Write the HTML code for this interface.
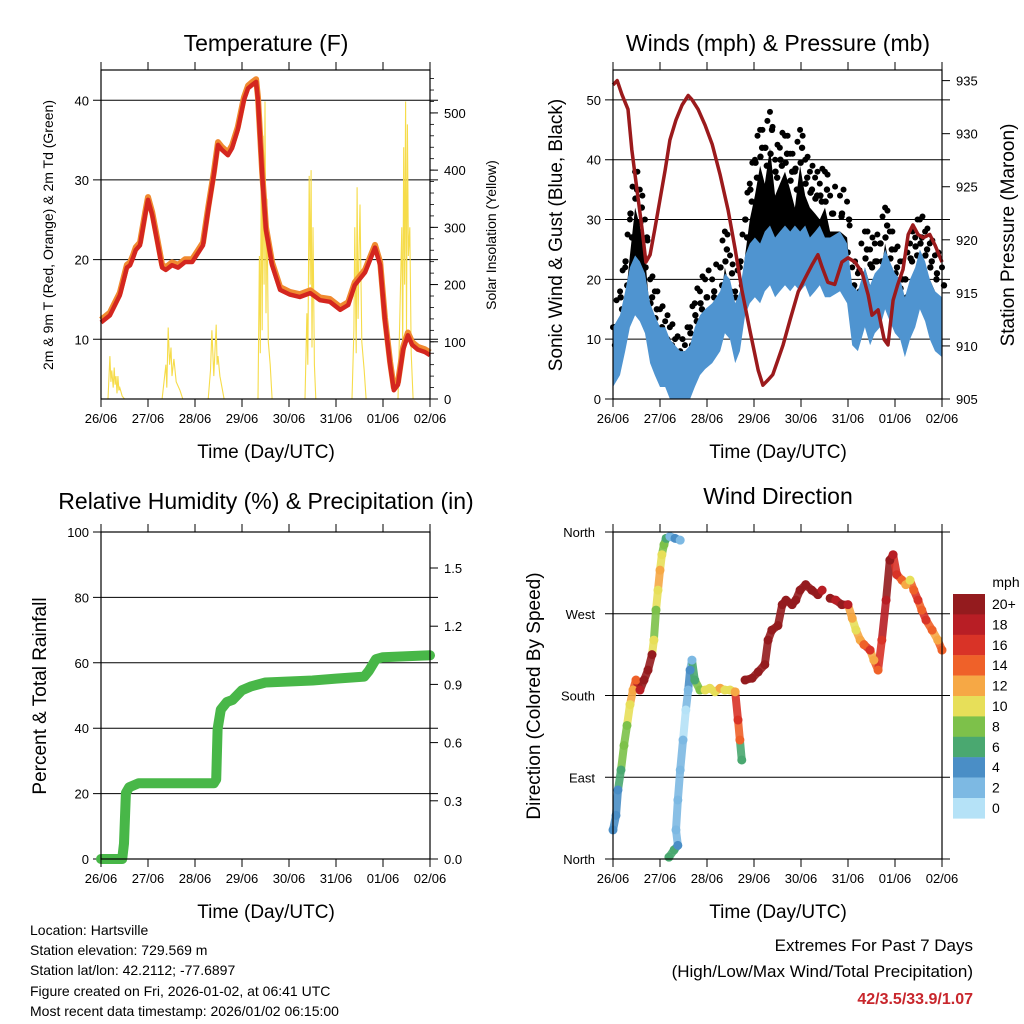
<!DOCTYPE html>
<html><head><meta charset="utf-8"><style>
html,body{margin:0;padding:0;background:#fff}
svg{display:block;font-family:"Liberation Sans",Arial,sans-serif}
</style></head><body>
<svg id="chart" width="1024" height="1024" viewBox="0 0 1024 1024" xmlns="http://www.w3.org/2000/svg">
<rect width="1024" height="1024" fill="#fff"/>
<g id="p1"></g>
<g id="p2"></g>
<g id="p3"></g>
<g id="p4"></g>
<g font-size="14" fill="#000">
<text x="30" y="935">Location: Hartsville</text>
<text x="30" y="955">Station elevation: 729.569 m</text>
<text x="30" y="975">Station lat/lon: 42.2112; -77.6897</text>
<text x="30" y="996">Figure created on Fri, 2026-01-02, at 06:41 UTC</text>
<text x="30" y="1016">Most recent data timestamp: 2026/01/02 06:15:00</text>
</g>
<g text-anchor="end">
<text x="973" y="951" font-size="17">Extremes For Past 7 Days</text>
<text x="973" y="977" font-size="17">(High/Low/Max Wind/Total Precipitation)</text>
<text x="973" y="1004" font-size="16" font-weight="bold" fill="#c8262c">42/3.5/33.9/1.07</text>
</g>
</svg>
<script>
const dayLabels=["26/06","27/06","28/06","29/06","30/06","31/06","01/06","02/06"];
// Temperature
const tTimes=[0,.19,.40,.55,.62,.68,.74,.83,.94,1.0,1.09,1.19,1.30,1.38,1.51,1.64,1.79,1.94,2.04,2.17,2.28,2.40,2.49,2.57,2.70,2.79,2.91,3.04,3.13,3.21,3.30,3.34,3.43,3.51,3.64,3.81,4.02,4.23,4.45,4.66,4.87,5.09,5.26,5.40,5.62,5.83,5.94,6.04,6.15,6.23,6.32,6.43,6.53,6.62,6.74,6.89,7.0];
const tVals=[12.1,13,15.5,19,19.3,20.2,21.2,21.8,25.6,27.5,25.6,22.5,19,18.7,19.3,19,19.7,19.7,20.6,21.8,26.2,30.6,34.4,33.8,33.1,34,36.3,40,41.5,41.9,42.3,40,30.6,23.7,19.3,16.2,15.6,15.3,15.8,14.9,14.7,13.7,14.3,16.8,18.4,21.5,19.3,12.4,6.8,3.6,4.3,8.7,10.5,9.3,8.7,8.4,8];
const solarTimes=[0,.15,.19,.21,.23,.26,.28,.30,.32,.34,.36,.38,.40,.45,.5,1.30,1.38,1.40,1.43,1.46,1.49,1.51,1.55,1.60,1.68,1.74,2.28,2.33,2.36,2.40,2.45,2.47,2.49,2.53,2.62,3.34,3.37,3.39,3.41,3.43,3.45,3.47,3.49,3.51,3.53,3.56,3.60,3.64,4.34,4.38,4.40,4.43,4.45,4.47,4.49,4.51,4.54,4.57,5.34,5.38,5.40,5.43,5.45,5.47,5.49,5.51,5.55,5.60,5.64,6.32,6.36,6.40,6.42,6.44,6.46,6.48,6.50,6.52,6.54,6.57,6.60,6.64,7.0];
const solarVals=[0,0,75,30,50,20,55,25,40,10,40,15,20,5,0,0,60,20,125,60,90,40,70,30,15,0,0,50,120,40,130,60,75,40,0,0,250,80,420,120,460,200,520,150,350,100,60,0,0,150,60,390,200,400,90,300,60,0,0,120,300,80,370,140,250,340,100,50,0,0,150,300,90,440,200,520,120,480,250,300,80,0,0];
const tTicks=[10,20,30,40];
const solarTicks=[0,100,200,300,400,500];
// Winds
const wTimes=[0,.15,.26,.36,.47,.57,.68,.79,.89,1.0,1.11,1.21,1.32,1.43,1.53,1.64,1.74,1.85,1.96,2.11,2.28,2.38,2.49,2.60,2.70,2.81,2.91,3.02,3.13,3.23,3.34,3.45,3.55,3.66,3.77,3.87,3.98,4.09,4.19,4.30,4.40,4.51,4.62,4.83,4.98,5.09,5.21,5.36,5.47,5.57,5.68,5.79,5.89,6.0,6.11,6.21,6.32,6.43,6.53,6.64,6.74,6.85,7.0];
const windVals=[7,9,13,17,19,18,16,11,9,7,7,5,4,3,3,4,7,9,10,11,13,16,15,11,13,19,21,22,21,23,24,22,23,24,23,24,23,24,22,23,24,22,22,23,21,14,13,17,14,16,17,20,18,16,15,12,15,17,20,18,15,13,12];
const gustVals=[12,18,22,30,38,35,30,20,18,15,13,12,10,8,9,12,16,18,20,20,22,28,24,18,22,30,36,40,45,42,48,40,42,44,41,38,45,40,38,37,36,38,34,34,33,22,21,28,25,26,26,32,28,25,23,20,26,27,30,28,26,24,22];
const pTimes=[0,.09,.19,.32,.40,.51,.62,.70,.79,.89,1.0,1.11,1.21,1.34,1.47,1.60,1.68,1.81,1.96,2.11,2.28,2.45,2.60,2.74,2.91,3.09,3.19,3.30,3.40,3.51,3.62,3.77,3.94,4.09,4.23,4.36,4.45,4.57,4.72,4.87,5.0,5.15,5.30,5.43,5.51,5.64,5.77,5.85,5.96,6.06,6.17,6.28,6.38,6.49,6.60,6.74,6.85,7.0];
const pVals=[934.6,935,933.7,932.3,928.5,924.7,921,917.9,918.6,921,923.8,926.6,929.4,931.3,932.7,933.6,933.2,932.3,930.8,929,926.1,922.8,919.1,915.3,911.5,907.7,906.3,906.8,907.3,908.7,910.1,912.5,915.1,916.4,917.6,918.6,917.4,916,915.8,917.9,918.3,917.9,916.9,914.8,912.9,913.4,910.6,910.1,914.3,915.8,917.2,920.5,921.4,920.5,920.2,920.5,919.5,917.9];
const wTicks=[0,10,20,30,40,50];
const pTicks=[905,910,915,920,925,930,935];
// Precip
const rTimes=[0,.45,.49,.53,.6,.8,2.4,2.45,2.48,2.55,2.68,2.8,3.0,3.2,3.5,4.5,5.0,5.6,5.7,5.85,6.0,7.0];
const rVals=[0,0,.08,.34,.37,.39,.39,.41,.67,.77,.81,.82,.87,.89,.91,.92,.93,.94,.97,1.03,1.04,1.05];
const rhTicks=[0,20,40,60,80,100];
const inTicks=["0.0","0.3","0.6","0.9","1.2","1.5"];
// Wind direction
const dTimes=[0,.064,.106,.17,.234,.298,.362,.426,.489,.574,.66,.745,.83,.87,.915,.957,1.0,1.04,1.085,1.13,1.21,1.32,1.43, 1.19,1.30,1.38, 1.34,1.38,1.43,1.49,1.55,1.6,1.64,1.68,1.74,1.85,1.96,2.06,2.17,2.28,2.38,2.49,2.6,2.66,2.70,2.74, 2.81,2.96,3.09,3.23,3.30,3.38,3.51,3.6,3.68,3.81,3.89,3.98,4.1,4.23,4.36,4.45,4.62,4.74,4.87,5.0,5.09,5.17,5.26,5.34,5.47,5.55,5.64,5.72,5.81,5.89,5.96,6.04,6.15,6.23,6.32,6.4,6.49,6.57,6.66,6.79,6.91,7.0];
const dDirs=[32,48,76,98,125,147,170,186,197,186,197,208,225,241,274,296,318,335,346,353,355,353,351, 2,10,15, 32,65,98,131,164,186,208,219,197,186,186,188,184,188,186,186,184,153,131,109, 197,199,206,214,241,252,257,280,285,280,285,296,302,296,291,296,287,285,280,280,265,252,241,236,230,219,208,241,285,329,335,313,307,302,307,296,285,274,263,252,241,230];
const dSpeeds=[4,4,5,7,8,9,11,12,14,18,20,20,20,10,8,10,12,10,8,7,3,4,3, 6,7,5, 3,3,2,2,1,3,4,3,6,8,10,11,10,12,11,10,12,16,14,7, 20,20,20,20,20,20,20,20,20,20,20,20,20,20,20,18,20,18,20,18,12,10,12,14,16,12,14,16,18,20,18,16,14,12,10,14,16,14,16,14,12,14];
const cbLabels=["20+","18","16","14","12","10","8","6","4","2","0"];
const cbColors=["#941b1e","#b81e25","#d93327","#ef6129","#f6a845","#e7df59","#7dc14a","#4aa870","#4a8ec6","#7db9e3","#b5e2f7"];

const NS="http://www.w3.org/2000/svg";
function mk(parent,tag,attrs){const e=document.createElementNS(NS,tag);for(const k in attrs)e.setAttribute(k,attrs[k]);parent.appendChild(e);return e;}
function txt(parent,x,y,s,size,anchor,rot){const e=mk(parent,'text',{x:x,y:y,'font-size':size,'text-anchor':anchor||'middle'});if(rot)e.setAttribute('transform','rotate(-90 '+x+' '+y+')');e.textContent=s;return e;}
function lin(d0,d1,r0,r1){return v=>r0+(v-d0)/(d1-d0)*(r1-r0);}
function pts(xs,ys,fx,fy){return xs.map((t,i)=>fx(t).toFixed(1)+','+fy(ys[i]).toFixed(1)).join(' ');}

function frame(g,L,T,R,B,fx){
  dayLabels.forEach((d,i)=>{const x=fx(i);
    const a=mk(g,'line',{x1:x,y1:B,x2:x,y2:B+8,stroke:'#000','stroke-width':1});
    
    mk(g,'line',{x1:x,y1:T,x2:x,y2:T-8,stroke:'#000','stroke-width':1});
    const t=txt(g,x,B+24,d,13);});
  const r=mk(g,'rect',{x:L,y:T,width:R-L,height:B-T,fill:'none',stroke:'#000','stroke-width':1.2});
  
}
function grid(g,L,R,y){const l=mk(g,'line',{x1:L-8,y1:y,x2:R+8,y2:y,stroke:'#000','stroke-width':1});}
function minor(g,x,y0,y1,step,dir){for(let y=y0;y>=y1;y-=step)mk(g,'line',{x1:x,y1:y,x2:x+dir*4,y2:y,stroke:'#000','stroke-width':0.8});}

// Panel 1
(function(){
  const g=document.getElementById('p1');const L=101,R=430,T=70,B=399;
  const fx=lin(0,7,L,R), fy=lin(2.5,43.8,B,T), fs=lin(0,575,B,T);
  const cl=mk(g,'clipPath',{id:'c1'});mk(cl,'rect',{x:L,y:T,width:R-L,height:B-T});
  tTicks.forEach(v=>{grid(g,L,R,fy(v));const t=txt(g,L-12,fy(v)+5,String(v),13,'end');});
  solarTicks.forEach(v=>{mk(g,'line',{x1:R,y1:fs(v),x2:R+8,y2:fs(v),stroke:'#000'});const t=txt(g,R+14,fs(v)+5,String(v),13,'start');});
  minor(g,R,fs(0),fs(560),(fs(0)-fs(20)),1);
  const s=mk(g,'polyline',{points:pts(solarTimes,solarVals,fx,fs),fill:'none',stroke:'#f6dc4a','stroke-width':1.1,'clip-path':'url(#c1)'});
  
  const o=mk(g,'polyline',{points:pts(tTimes,tVals.map(v=>v+0.35),fx,fy),fill:'none',stroke:'#f08a30','stroke-width':6,'stroke-linejoin':'round'});
  
  const r=mk(g,'polyline',{points:pts(tTimes,tVals,fx,fy),fill:'none',stroke:'#d4261f','stroke-width':4.5,'stroke-linejoin':'round'});
  
  frame(g,L,T,R,B,fx);
  let t=txt(g,266,51,'Temperature (F)',23);
  t=txt(g,266,458,'Time (Day/UTC)',19);
  t=txt(g,53,235,'2m & 9m T (Red, Orange) & 2m Td (Green)',14,'middle',true);
  t=txt(g,496,235,'Solar Insolation (Yellow)',14,'middle',true);
})();

// Panel 2
(function(){
  const g=document.getElementById('p2');const L=613,R=942,T=70,B=399;
  const fx=lin(0,7,L,R), fy=lin(0,55,B,T), fp=lin(905,936,B,T);
  const cy=v=>Math.max(T,Math.min(B,fy(v)));
  wTicks.forEach(v=>{if(v>0)grid(g,L,R,fy(v));else mk(g,'line',{x1:L-8,y1:B,x2:L,y2:B,stroke:'#000'});const t=txt(g,L-12,fy(v)+5,String(v),13,'end');});
  pTicks.forEach(v=>{mk(g,'line',{x1:R,y1:fp(v),x2:R+8,y2:fp(v),stroke:'#000'});const t=txt(g,R+14,fp(v)+5,String(v),13,'start');});
  const up=wTimes.map((t,i)=>fx(t).toFixed(1)+','+cy(gustVals[i]-6).toFixed(1));
  const lo=wTimes.map((t,i)=>fx(t).toFixed(1)+','+cy(windVals[i]+3).toFixed(1)).reverse();
  const gb=mk(g,'polygon',{points:up.concat(lo).join(' '),fill:'#000'});
  
  wTimes.forEach((t,i)=>{
    const c=mk(g,'circle',{cx:fx(t),cy:cy(gustVals[i]),r:3,fill:'#000'});
    
    const c3=mk(g,'circle',{cx:fx(t)+2,cy:cy(gustVals[i]-3),r:3.2,fill:'#000'});
    
    if(i>0){const c2=mk(g,'circle',{cx:(fx(t)+fx(wTimes[i-1]))/2,cy:cy((gustVals[i]+gustVals[i-1])/2+1.5),r:3,fill:'#000'});
      
      const c4=mk(g,'circle',{cx:(fx(t)+fx(wTimes[i-1]))/2-2,cy:cy((gustVals[i]+gustVals[i-1])/2-3),r:3.2,fill:'#000'});
      }
  });
  const wu=wTimes.map((t,i)=>fx(t).toFixed(1)+','+cy(windVals[i]+5).toFixed(1));
  const wl=wTimes.map((t,i)=>fx(t).toFixed(1)+','+cy(windVals[i]-5).toFixed(1)).reverse();
  const wb=mk(g,'polygon',{points:wu.concat(wl).join(' '),fill:'#4f94d0'});
  
  const p=mk(g,'polyline',{points:pts(pTimes,pVals,fx,fp),fill:'none',stroke:'#9b1a1c','stroke-width':3.5,'stroke-linejoin':'round'});
  
  frame(g,L,T,R,B,fx);
  let t=txt(g,778,51,'Winds (mph) & Pressure (mb)',23);
  t=txt(g,778,458,'Time (Day/UTC)',19);
  t=txt(g,562,235,'Sonic Wind & Gust (Blue, Black)',19,'middle',true);
  t=txt(g,1014,235,'Station Pressure (Maroon)',19,'middle',true);
})();

// Panel 3
(function(){
  const g=document.getElementById('p3');const L=101,R=430,T=532,B=859;
  const fx=lin(0,7,L,R), fy=lin(0,100,B,T), fi=lin(0,1.5,B,568);
  rhTicks.forEach(v=>{if(v>0&&v<100)grid(g,L,R,fy(v));else mk(g,'line',{x1:L-8,y1:fy(v),x2:L,y2:fy(v),stroke:'#000'});const t=txt(g,L-12,fy(v)+5,String(v),13,'end');});
  inTicks.forEach(s=>{const v=parseFloat(s);mk(g,'line',{x1:R,y1:fi(v),x2:R+8,y2:fi(v),stroke:'#000'});const t=txt(g,R+14,fi(v)+5,s,13,'start');});
  const r=mk(g,'polyline',{points:pts(rTimes,rVals,fx,fi),fill:'none',stroke:'#48b748','stroke-width':10,'stroke-linejoin':'round','stroke-linecap':'round'});
  
  frame(g,L,T,R,B,fx);
  let t=txt(g,266,509,'Relative Humidity (%) & Precipitation (in)',23);
  t=txt(g,266,918,'Time (Day/UTC)',19);
  t=txt(g,46,696,'Percent & Total Rainfall',19,'middle',true);
})();

// Panel 4
(function(){
  const g=document.getElementById('p4');const L=613,R=942,T=532,B=859;
  const fx=lin(0,7,L,R), fy=lin(0,360,B,T);
  const dirLabels=["North","East","South","West","North"];
  dirLabels.forEach((s,i)=>{const y=fy(i*90);if(i>0&&i<4)grid(g,L,R,y);else mk(g,'line',{x1:L-8,y1:y,x2:R+8,y2:y,stroke:'#000'});const t=txt(g,L-18,y+5,s,13,'end');});
  const col=s=>cbColors[10-Math.min(10,Math.floor(s/2))];
  for(let i=1;i<dTimes.length;i++){
    if(Math.abs(dTimes[i]-dTimes[i-1])<0.16&&Math.abs(dDirs[i]-dDirs[i-1])<60){
      const l=mk(g,'line',{x1:fx(dTimes[i-1]),y1:fy(dDirs[i-1]),x2:fx(dTimes[i]),y2:fy(dDirs[i]),stroke:col(dSpeeds[i]),'stroke-width':8,'stroke-linecap':'round',opacity:0.9});
      
    }
  }
  dTimes.forEach((t,i)=>{const c=mk(g,'circle',{cx:fx(t),cy:fy(dDirs[i]),r:4.5,fill:col(dSpeeds[i])});
    });
  frame(g,L,T,R,B,fx);
  let t=txt(g,778,504,'Wind Direction',23);
  t=txt(g,778,918,'Time (Day/UTC)',19);
  t=txt(g,540,696,'Direction (Colored By Speed)',19,'middle',true);
  const cb=mk(g,'g',{});
  t=txt(cb,1006,587,'mph',14);
  cbColors.forEach((c,i)=>{const y=594+i*20.4;
    const r=mk(cb,'rect',{x:953,y:y,width:32,height:20.6,fill:c});
    const l=txt(cb,992,y+15,cbLabels[i],14,'start');});
})();
</script>
</body></html>
